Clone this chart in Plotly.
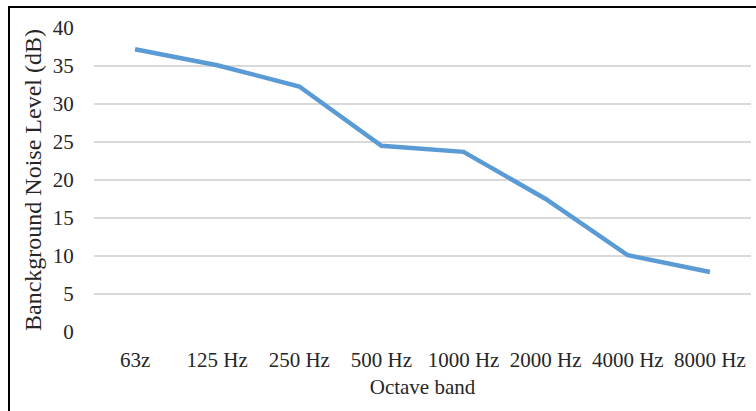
import plotly.graph_objects as go

# Octave-band background noise measurements
bands = ["63z", "125 Hz", "250 Hz", "500 Hz", "1000 Hz", "2000 Hz", "4000 Hz", "8000 Hz"]
noise_db = [37.2, 35.1, 32.3, 24.5, 23.7, 17.5, 10.1, 7.9]
y_ticks = [0, 5, 10, 15, 20, 25, 30, 35, 40]

W, H = 756, 411
ML, MR, MT, MB = 94, 5, 28, 79
pw, ph = W - ML - MR, H - MT - MB

fig = go.Figure()
fig.add_trace(go.Scatter(
    x=bands, y=noise_db, mode="lines",
    line=dict(color="#5B9BD5", width=4.5),
    showlegend=False, hoverinfo="skip",
))

font_family = "Liberation Serif, Times New Roman, serif"
text_color = "#262626"

fig.update_layout(
    width=W, height=H,
    margin=dict(l=ML, r=MR, t=MT, b=MB),
    paper_bgcolor="white", plot_bgcolor="white",
    font=dict(family=font_family, color=text_color),
    xaxis=dict(
        type="category", showgrid=False, zeroline=False, showline=False,
        ticks="outside", ticklen=9, tickcolor="rgba(0,0,0,0)",
        tickfont=dict(size=21, color=text_color),
        title=dict(text="Octave band", font=dict(size=21, color=text_color), standoff=8),
        range=[-0.5, len(bands) - 0.5],
    ),
    yaxis=dict(
        range=[0, 40], tickvals=y_ticks, showgrid=True,
        gridcolor="#D9D9D9", gridwidth=1.5, zeroline=False, showline=False,
        ticks="outside", ticklen=15, tickcolor="rgba(0,0,0,0)",
        tickfont=dict(size=21, color=text_color),
        title=dict(text="Banckground Noise Level (dB)", font=dict(size=24, color=text_color), standoff=4),
    ),
)

# Outer frame (top and left edges fall inside the canvas)
x0 = (9 - ML) / pw
y1 = (H - MB - 7) / ph
fig.add_shape(type="rect", xref="paper", yref="paper",
              x0=x0, x1=1.2, y0=-0.6, y1=y1,
              line=dict(color="black", width=2), layer="above")

fig.write_html("out.html")
